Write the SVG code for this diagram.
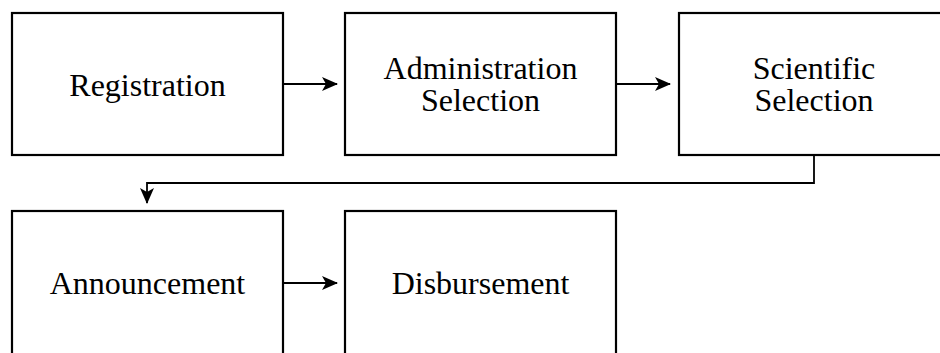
<svg xmlns="http://www.w3.org/2000/svg" width="940" height="353" viewBox="0 0 940 353">
<defs>
<style>
.box{fill:#fff;stroke:#000;stroke-width:2.2}
.lbl{font-family:"Liberation Serif","Times New Roman",serif;font-size:32px;fill:#000;text-anchor:middle}
.con{fill:none;stroke:#000;stroke-width:1.8}
</style>
<marker id="ah" viewBox="0 0 16 14" refX="15" refY="7" markerWidth="16" markerHeight="14" markerUnits="userSpaceOnUse" orient="auto">
<path d="M16,7 L0,0 L4,7 L0,14 Z" fill="#000"/>
</marker>
</defs>
<rect width="940" height="353" fill="#fff"/>
<g id="connectors">
<path class="con" d="M283,84 H337" marker-end="url(#ah)"/>
<path class="con" d="M616,84 H670" marker-end="url(#ah)"/>
<path class="con" d="M814,155 V183 H147 V203" marker-end="url(#ah)"/>
<path class="con" d="M283,283 H337" marker-end="url(#ah)"/>
</g>
<g id="registration">
<rect class="box" x="12" y="13" width="271" height="142"/>
<text class="lbl" x="147.5" y="95.5">Registration</text>
</g>
<g id="administration-selection">
<rect class="box" x="345" y="13" width="271" height="142"/>
<text class="lbl" x="480.5" y="79">Administration</text>
<text class="lbl" x="480.5" y="111">Selection</text>
</g>
<g id="scientific-selection">
<rect class="box" x="679" y="13" width="271" height="142"/>
<text class="lbl" x="814" y="79">Scientific</text>
<text class="lbl" x="814" y="111">Selection</text>
</g>
<g id="announcement">
<rect class="box" x="12" y="211" width="271" height="144"/>
<text class="lbl" x="147.5" y="293.5">Announcement</text>
</g>
<g id="disbursement">
<rect class="box" x="345" y="211" width="271" height="144"/>
<text class="lbl" x="480.5" y="293.5">Disbursement</text>
</g>
</svg>
